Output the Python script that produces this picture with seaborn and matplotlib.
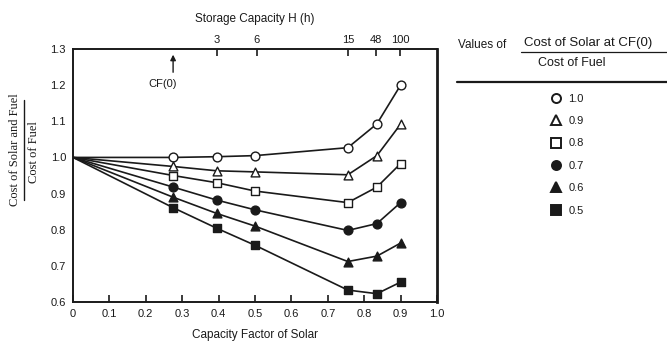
import matplotlib
matplotlib.use("Agg")
import matplotlib.pyplot as plt
from matplotlib.lines import Line2D
import seaborn as sns
import pandas as pd

# ---- data ----
cap_factor = [0.0, 0.275, 0.395, 0.50, 0.755, 0.835, 0.90]
ratio_labels = ["1.0", "0.9", "0.8", "0.7", "0.6", "0.5"]
cost_10 = [1.00, 1.000, 1.002, 1.005, 1.027, 1.093, 1.200]
cost_09 = [1.00, 0.975, 0.963, 0.960, 0.952, 1.005, 1.092]
cost_08 = [1.00, 0.950, 0.930, 0.907, 0.875, 0.918, 0.983]
cost_07 = [1.00, 0.918, 0.882, 0.855, 0.798, 0.817, 0.875]
cost_06 = [1.00, 0.890, 0.845, 0.810, 0.712, 0.727, 0.763]
cost_05 = [1.00, 0.861, 0.804, 0.757, 0.633, 0.623, 0.655]
series = [cost_10, cost_09, cost_08, cost_07, cost_06, cost_05]

storage_ticks = [0.395, 0.505, 0.756, 0.833, 0.898]
storage_labels = ["3", "6", "15", "48", "100"]
x_ticks = [0.0, 0.1, 0.2, 0.3, 0.4, 0.5, 0.6, 0.7, 0.8, 0.9, 1.0]
x_tick_labels = ["0", "0.1", "0.2", "0.3", "0.4", "0.5", "0.6", "0.7", "0.8", "0.9", "1.0"]
y_ticks = [0.6, 0.7, 0.8, 0.9, 1.0, 1.1, 1.2, 1.3]
cf0 = 0.275

markers = ["o", "^", "s", "o", "^", "s"]
filled = [False, False, False, True, True, True]

sns.set_style("white")
plt.rcParams["font.family"] = ["Liberation Sans", "DejaVu Sans"]
ink = "#1a1a1a"

W, H = 667, 345
fig = plt.figure(figsize=(W / 100, H / 100), dpi=100)
ax_top, ax_bot = 49, 302
ax = fig.add_axes([73 / W, 1 - ax_bot / H, (437 - 73) / W, (ax_bot - ax_top) / H])

handles = []
for vals, lab, m, f in zip(series, ratio_labels, markers, filled):
    df = pd.DataFrame({"cf": cap_factor, "cost": vals})
    sns.lineplot(data=df, x="cf", y="cost", ax=ax, color=ink, lw=1.2,
                 sort=False, estimator=None)
    fc = ink if f else "white"
    sns.scatterplot(data=df.iloc[1:], x="cf", y="cost", ax=ax, marker=m,
                    s=40, facecolor=fc, edgecolor=ink, linewidth=1.0, zorder=3)
    handles.append(Line2D([], [], ls="none", marker=m, markersize=6.5,
                          markerfacecolor=fc, markeredgecolor=ink,
                          markeredgewidth=1.4, label=lab))

ax.set_xlim(0, 1.0)
ax.set_ylim(0.6, 1.3)
ax.set_xticks(x_ticks)
ax.set_xticklabels(x_tick_labels)
ax.set_yticks(y_ticks)
ax.set_yticklabels([f"{v:.1f}" for v in y_ticks])
ax.tick_params(direction="in", length=5, width=1.2, labelsize=8, colors=ink, pad=5)
ax.set_xlabel("Capacity Factor of Solar", fontsize=8.5, color=ink, labelpad=7)
ax.set_ylabel("")
for side in ["left", "bottom", "top"]:
    ax.spines[side].set_linewidth(1.4)
    ax.spines[side].set_color(ink)
ax.spines["right"].set_linewidth(2.0)
ax.spines["right"].set_color(ink)

ax2 = ax.twiny()
ax2.set_xlim(0, 1.0)
ax2.set_xticks(storage_ticks)
ax2.set_xticklabels(storage_labels)
ax2.tick_params(direction="in", length=5, width=1.2, labelsize=8, colors=ink, pad=3)
ax2.set_xlabel("Storage Capacity H (h)", fontsize=8.5, color=ink, labelpad=9)
for s in ax2.spines.values():
    s.set_visible(False)

# CF(0) arrow
ax.annotate("", xy=(cf0, 1.292), xytext=(cf0, 1.228),
            arrowprops=dict(arrowstyle="-|>", color=ink, lw=1.0, mutation_scale=8))
ax.text(cf0 - 0.03, 1.203, "CF(0)", ha="center", va="center", fontsize=8, color=ink)

# y label as fraction (serif, as in the reference)
serif = ["Liberation Serif", "DejaVu Serif"]
fig.text(15 / W, 1 - 150 / H, "Cost of Solar and Fuel", rotation=90, family=serif,
         ha="center", va="center", fontsize=9, color=ink)
fig.add_artist(Line2D([24 / W, 24 / W], [1 - 200 / H, 1 - 100 / H],
                      transform=fig.transFigure, color=ink, lw=1.0))
fig.text(34 / W, 1 - 152 / H, "Cost of Fuel", rotation=90, family=serif,
         ha="center", va="center", fontsize=9, color=ink)

# legend title
fig.text(458 / W, 1 - 45 / H, "Values of", ha="left", va="center", fontsize=8.5, color=ink)
fig.text(524 / W, 1 - 43 / H, "Cost of Solar at CF(0)", ha="left", va="center",
         fontsize=9.5, color=ink)
fig.add_artist(Line2D([521 / W, 667 / W], [1 - 52 / H, 1 - 52 / H],
                      transform=fig.transFigure, color=ink, lw=0.9))
fig.text(572 / W, 1 - 63 / H, "Cost of Fuel", ha="center", va="center",
         fontsize=9, color=ink)
fig.add_artist(Line2D([457 / W, 667 / W], [1 - 82 / H, 1 - 82 / H],
                      transform=fig.transFigure, color=ink, lw=1.6))

fig.legend(handles=handles, loc="upper left", bbox_to_anchor=(545 / W, 1 - 88 / H),
           frameon=False, fontsize=8, labelspacing=1.12, handlelength=1.0,
           handletextpad=0.6, borderpad=0, labelcolor=ink)

fig.savefig("out.png", dpi=100, facecolor="white")
